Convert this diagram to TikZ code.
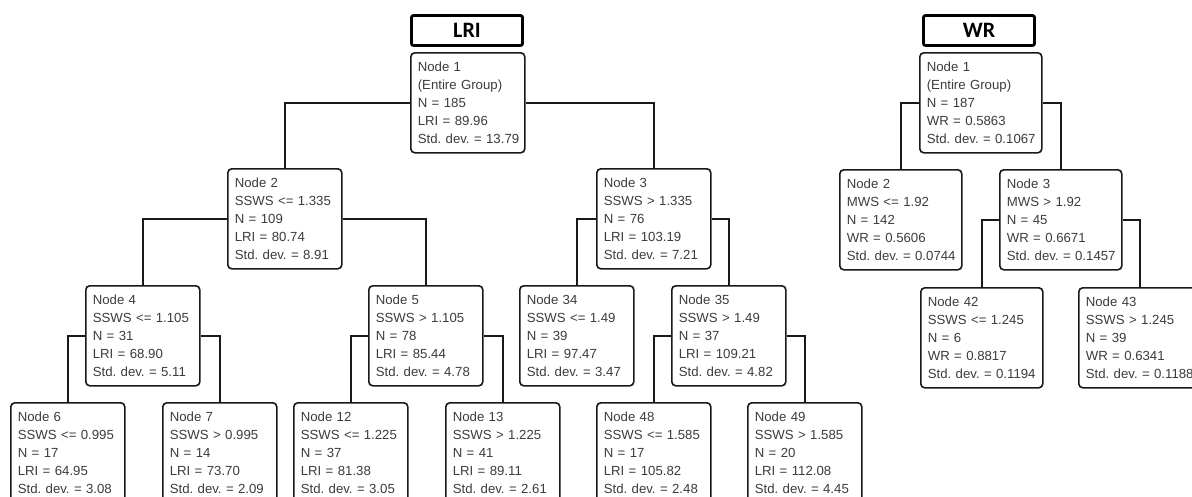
\documentclass[tikz,border=0pt]{standalone}
\usepackage{fontspec}
\newfontfamily\nodefnt{Liberation Sans}
\newfontfamily\titlefnt{Carlito}
\definecolor{txtgray}{HTML}{3C3C3C}
\frenchspacing
\newcommand{\nlines}[5]{\mbox{#1}\\\mbox{#2}\\\mbox{#3}\\\mbox{#4}\\\mbox{#5}}
\begin{document}
\begin{tikzpicture}[x=1pt,y=-1pt,
  tn/.style={draw=black!90, line width=1.6pt, rounded corners=4pt, anchor=north west,
    minimum height=100pt, inner xsep=7pt, inner ysep=0pt, align=left,
    font={\frenchspacing\nodefnt\fontsize{13.2}{18}\selectfont}, text=txtgray},
  lri/.style={tn, text width=100pt},
  wr/.style={tn, text width=108pt},
  title/.style={draw=black, line width=2.8pt, rounded corners=2pt, minimum width=111pt,
    minimum height=30pt, inner sep=0pt, font={\titlefnt\bfseries\fontsize{22}{24}\selectfont}},
  conn/.style={draw=black!90, line width=1.8pt}]
\useasboundingbox (0,0) rectangle (1192,496);
\clip (0,0) rectangle (1192,496);
\fill[white] (0,0) rectangle (1192,496);
% titles
\node[title] (tl) at (467,30.5) {LRI};
\node[title] (tw) at (979,30.5) {WR};
% LRI tree
\node[lri] (a1) at (410,52) {\nlines{Node 1}{(Entire Group)}{N = 185}{LRI = 89.96}{Std. dev. = 13.79}};
\node[lri] (a2) at (227,168) {\nlines{Node 2}{SSWS <= 1.335}{N = 109}{LRI = 80.74}{Std. dev. = 8.91}};
\node[lri] (a3) at (596,168) {\nlines{Node 3}{SSWS > 1.335}{N = 76}{LRI = 103.19}{Std. dev. = 7.21}};
\node[lri] (a4) at (85,285) {\nlines{Node 4}{SSWS <= 1.105}{N = 31}{LRI = 68.90}{Std. dev. = 5.11}};
\node[lri] (a5) at (368,285) {\nlines{Node 5}{SSWS > 1.105}{N = 78}{LRI = 85.44}{Std. dev. = 4.78}};
\node[lri] (a34) at (519,285) {\nlines{Node 34}{SSWS <= 1.49}{N = 39}{LRI = 97.47}{Std. dev. = 3.47}};
\node[lri] (a35) at (671,285) {\nlines{Node 35}{SSWS > 1.49}{N = 37}{LRI = 109.21}{Std. dev. = 4.82}};
\node[lri] (a6) at (10,402) {\nlines{Node 6}{SSWS <= 0.995}{N = 17}{LRI = 64.95}{Std. dev. = 3.08}};
\node[lri] (a7) at (162,402) {\nlines{Node 7}{SSWS > 0.995}{N = 14}{LRI = 73.70}{Std. dev. = 2.09}};
\node[lri] (a12) at (293,402) {\nlines{Node 12}{SSWS <= 1.225}{N = 37}{LRI = 81.38}{Std. dev. = 3.05}};
\node[lri] (a13) at (445,402) {\nlines{Node 13}{SSWS > 1.225}{N = 41}{LRI = 89.11}{Std. dev. = 2.61}};
\node[lri] (a48) at (596,402) {\nlines{Node 48}{SSWS <= 1.585}{N = 17}{LRI = 105.82}{Std. dev. = 2.48}};
\node[lri] (a49) at (747,402) {\nlines{Node 49}{SSWS > 1.585}{N = 20}{LRI = 112.08}{Std. dev. = 4.45}};
% WR tree
\node[wr] (b1) at (919,52) {\nlines{Node 1}{(Entire Group)}{N = 187}{WR = 0.5863}{Std. dev. = 0.1067}};
\node[wr] (b2) at (839,169) {\nlines{Node 2}{MWS <= 1.92}{N = 142}{WR = 0.5606}{Std. dev. = 0.0744}};
\node[wr] (b3) at (999,169) {\nlines{Node 3}{MWS > 1.92}{N = 45}{WR = 0.6671}{Std. dev. = 0.1457}};
\node[wr] (b42) at (920,287) {\nlines{Node 42}{SSWS <= 1.245}{N = 6}{WR = 0.8817}{Std. dev. = 0.1194}};
\node[wr] (b43) at (1078,287) {\nlines{Node 43}{SSWS > 1.245}{N = 39}{WR = 0.6341}{Std. dev. = 0.1188}};
% connectors
\draw[conn] (a1.west) -| (a2.north);
\draw[conn] (a1.east) -| (a3.north);
\draw[conn] (a2.west) -| (a4.north);
\draw[conn] (a2.east) -| (a5.north);
\draw[conn] (a3.west) -| (a34.north);
\draw[conn] (a3.east) -| (a35.north);
\draw[conn] (a4.west) -| (a6.north);
\draw[conn] (a4.east) -| (a7.north);
\draw[conn] (a5.west) -| (a12.north);
\draw[conn] (a5.east) -| (a13.north);
\draw[conn] (a35.west) -| (a48.north);
\draw[conn] (a35.east) -| (a49.north);
\draw[conn] (b1.west) -| (b2.north);
\draw[conn] (b1.east) -| (b3.north);
\draw[conn] (b3.west) -| (b42.north);
\draw[conn] (b3.east) -| (b43.north);
\end{tikzpicture}
\end{document}
